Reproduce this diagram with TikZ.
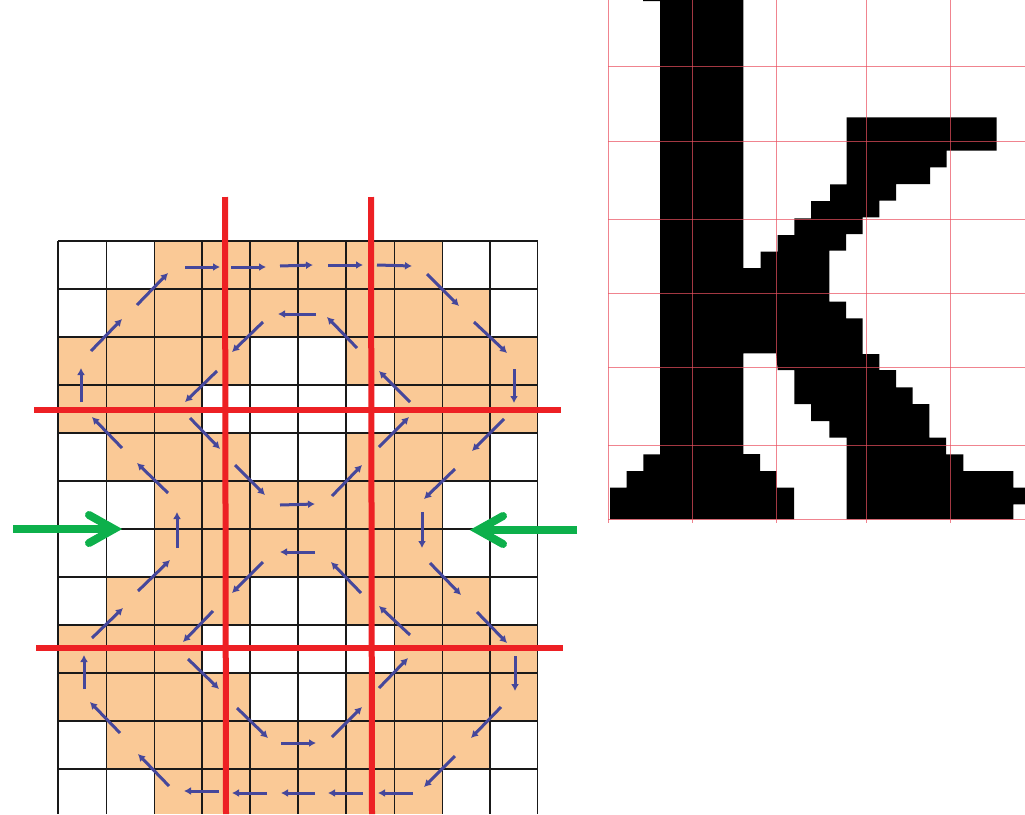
\documentclass[tikz,border=0pt]{standalone}
\usepackage{xcolor}
\usetikzlibrary{arrows.meta}

\definecolor{cellfill}{HTML}{FAC996}
\definecolor{flowblue}{HTML}{45479B}
\definecolor{cutred}{HTML}{ED2024}
\definecolor{markgreen}{HTML}{0DB04B}
\definecolor{thinred}{HTML}{E9505F}

\begin{document}
\begin{tikzpicture}
[x=1pt,y=-1pt,
	cell/.style={fill=cellfill,draw=none},
	gridline/.style={black!90,line width=1.5pt},
	cut/.style={cutred,line width=6pt},
	flow/.style={flowblue,line width=3pt,-{Latex[length=7pt,width=8pt]}},
	marker/.style={markgreen,line width=8pt},
	markerhead/.style={markgreen,line width=8pt,line cap=round,line join=miter},
	letter/.style={fill=black,draw=none},
	pagegrid/.style={thinred,line width=1pt,opacity=0.7}]
\useasboundingbox (0,0) rectangle (1025,814);

% filled cells, row by row
\fill[cell] (154,241) rectangle (442,289);
\fill[cell] (106,289) rectangle (490,337);
\fill[cell] (58,337) rectangle (250,385);
\fill[cell] (346,337) rectangle (538,385);
\fill[cell] (58,385) rectangle (202,433);
\fill[cell] (394,385) rectangle (538,433);
\fill[cell] (106,433) rectangle (250,481);
\fill[cell] (346,433) rectangle (490,481);
\fill[cell] (154,481) rectangle (442,577);
\fill[cell] (106,577) rectangle (250,625);
\fill[cell] (346,577) rectangle (490,625);
\fill[cell] (58,625) rectangle (202,673);
\fill[cell] (394,625) rectangle (538,673);
\fill[cell] (58,673) rectangle (250,721);
\fill[cell] (346,673) rectangle (538,721);
\fill[cell] (106,721) rectangle (490,769);
\fill[cell] (154,769) rectangle (442,814);

% grid
\draw[gridline] (58,241) -- (58,814);
\draw[gridline] (106.5,241) -- (106.5,814);
\draw[gridline] (154.5,241) -- (154.5,814);
\draw[gridline] (202,241) -- (202,814);
\draw[gridline] (250,241) -- (250,814);
\draw[gridline] (298,241) -- (298,814);
\draw[gridline] (346,241) -- (346,814);
\draw[gridline] (394.5,241) -- (394.5,814);
\draw[gridline] (442.5,241) -- (442.5,814);
\draw[gridline] (490,241) -- (490,814);
\draw[gridline] (537.5,241) -- (537.5,814);

\draw[gridline] (58,241) -- (538,241);
\draw[gridline] (58,289) -- (538,289);
\draw[gridline] (58,337) -- (538,337);
\draw[gridline] (58,385) -- (538,385);
\draw[gridline] (58,433) -- (538,433);
\draw[gridline] (58,481) -- (538,481);
\draw[gridline] (58,529) -- (538,529);
\draw[gridline] (58,577) -- (538,577);
\draw[gridline] (58,625) -- (538,625);
\draw[gridline] (58,673) -- (538,673);
\draw[gridline] (58,721) -- (538,721);
\draw[gridline] (58,769) -- (538,769);

% outer loop
\draw[flow] (81,402) -- (81,368);
\draw[flow] (91,351) -- (122,319);
\draw[flow] (137,305) -- (168,273);
\draw[flow] (185,267) -- (220,267);
\draw[flow] (231,267) -- (266,267);
\draw[flow] (280,266) -- (313,265);
\draw[flow] (328,265) -- (363,265);
\draw[flow] (377,265) -- (412,266);
\draw[flow] (427,274) -- (459,306);
\draw[flow] (474,322) -- (507,353);
\draw[flow] (514,369) -- (514,403);
\draw[flow] (504,419) -- (472,451);
\draw[flow] (455,469) -- (424,499);
\draw[flow] (422,512) -- (422,548);
\draw[flow] (430,563) -- (461,595);
\draw[flow] (477,612) -- (507,643);
\draw[flow] (515,656) -- (515,691);
\draw[flow] (501,707) -- (471,738);
\draw[flow] (455,756) -- (424,787);
\draw[flow] (413,793) -- (378,793);
\draw[flow] (363,793) -- (328,793);
\draw[flow] (315,793) -- (281,793);
\draw[flow] (267,793) -- (232,793);
\draw[flow] (219,791) -- (184,791);
\draw[flow] (169,786) -- (138,754);
\draw[flow] (120,733) -- (90,702);
\draw[flow] (84,689) -- (84,655);
\draw[flow] (92,638) -- (123,608);
\draw[flow] (138,591) -- (170,560);
\draw[flow] (177,548) -- (177,512);
\draw[flow] (168,493) -- (137,463);
\draw[flow] (122,448) -- (92,417);

% upper inner loop
\draw[flow] (217,371) -- (185,402);
\draw[flow] (263,322) -- (232,352);
\draw[flow] (316,314) -- (278,314);
\draw[flow] (357,348) -- (327,317);
\draw[flow] (410,402) -- (379,371);
\draw[flow] (379,447) -- (409,417);
\draw[flow] (332,496) -- (362,465);
\draw[flow] (280,505) -- (315,504);
\draw[flow] (190,418) -- (220,449);
\draw[flow] (235,465) -- (265,495);

% lower inner loop
\draw[flow] (315,552) -- (280,552);
\draw[flow] (361,593) -- (331,562);
\draw[flow] (410,635) -- (379,606);
\draw[flow] (379,688) -- (408,658);
\draw[flow] (332,737) -- (362,707);
\draw[flow] (281,743) -- (316,743);
\draw[flow] (237,708) -- (268,738);
\draw[flow] (188,659) -- (219,689);
\draw[flow] (213,611) -- (183,642);
\draw[flow] (263,562) -- (232,593);

% cut lines
\draw[cut] (225,197) -- (226,814);
\draw[cut] (371,197) -- (372,814);
\draw[cut] (34,410) -- (561,410);
\draw[cut] (36,648) -- (563,648);

% side markers
\draw[marker] (13,529) -- (112,529);
\draw[markerhead] (89,515) -- (114,529) -- (89,543);
\draw[marker] (577,530) -- (480,530);
\draw[markerhead] (503,516) -- (478,530) -- (503,544);

% the letter
\fill[letter] (643,0) -- (743.3,0) -- (743.3,268) -- (760.7,268) -- (760.7,251.7)
	-- (777.7,251.7) -- (777.7,235) -- (794.3,235) -- (794.3,218.3) -- (811,218.3)
	-- (811,201) -- (830,201) -- (830,184.3) -- (846.7,184.3) -- (846.7,117.3)
	-- (996.7,117.3) -- (996.7,150.7) -- (946.7,150.7) -- (946.7,167.3) -- (930,167.3)
	-- (930,184) -- (896,184) -- (896,200.7) -- (879.3,200.7) -- (879.3,217.3)
	-- (862.7,217.3) -- (862.7,234) -- (846,234) -- (846,250.7) -- (829.3,250.7)
	-- (829.3,301.7) -- (846,301.7) -- (846,318.3) -- (862.7,318.3) -- (862.7,354)
	-- (879.3,354) -- (879.3,370) -- (896,370) -- (896,387.3) -- (912.7,387.3)
	-- (912.7,404) -- (929.3,404) -- (929.3,437.7) -- (946,437.7) -- (946,454.3)
	-- (963.3,454.3) -- (963.3,471) -- (1013.3,471) -- (1013.3,487.7) -- (1025,487.7)
	-- (1025,504.3) -- (1013.3,504.3) -- (1013.3,519.3) -- (846.7,519.3) -- (846.7,437.7)
	-- (829.3,437.7) -- (829.3,421) -- (811,421) -- (811,404) -- (794.3,404)
	-- (794.3,370) -- (777.7,370) -- (776,353.3) -- (743.3,353.3) -- (743.3,454)
	-- (760,454) -- (760,471) -- (776.7,471) -- (776.7,487.7) -- (794,487.7)
	-- (794,519.3) -- (610,519.3) -- (610,487.7) -- (626.7,487.7) -- (626.7,471)
	-- (643.3,471) -- (643.3,454.3) -- (660,454.3) -- (660,1) -- (643,1) -- cycle;

% thin page grid
\draw[pagegrid] (608.5,0) -- (608.5,523);
\draw[pagegrid] (692,0) -- (692,523);
\draw[pagegrid] (776,0) -- (776,523);
\draw[pagegrid] (866,0) -- (866,523);
\draw[pagegrid] (950,0) -- (950,523);
\draw[pagegrid] (608,66) -- (1025,66);
\draw[pagegrid] (608,141) -- (1025,141);
\draw[pagegrid] (608,219) -- (1025,219);
\draw[pagegrid] (608,293) -- (1025,293);
\draw[pagegrid] (608,367) -- (1025,367);
\draw[pagegrid] (608,445) -- (1025,445);
\draw[pagegrid] (608,519) -- (1025,519);

\end{tikzpicture}
\end{document}
